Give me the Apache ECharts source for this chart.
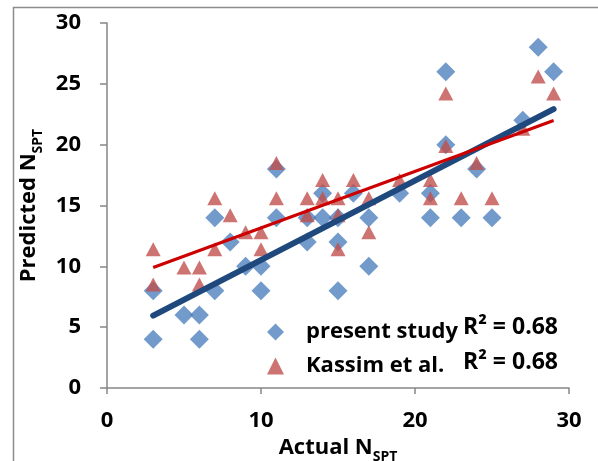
<!DOCTYPE html>
<html>
<head>
<meta charset="utf-8">
<script src="https://cdn.jsdelivr.net/npm/echarts@6/dist/echarts.min.js"></script>
<style>
html, body { margin: 0; padding: 0; background: #fff; }
#chart { width: 598px; height: 461px; }
</style>
</head>
<body>
<div id="chart"></div>
<script>
// values
var actualN = [3, 3, 5, 6, 6, 7, 7, 8, 9, 10, 10, 11, 11, 13, 13, 14, 14, 15, 15, 15, 16, 17, 17, 19, 21, 21, 22, 22, 23, 24, 25, 27, 28, 29];
var presentStudy = [8, 4, 6, 6, 4, 8, 14, 12, 10, 10, 8, 18, 14, 14, 12, 16, 14, 14, 12, 8, 16, 14, 10, 16, 16, 14, 26, 20, 14, 18, 14, 22, 28, 26];
var kassim = [11.4, 8.5, 9.9, 9.9, 8.5, 11.4, 15.6, 14.2, 12.8, 12.8, 11.4, 18.5, 15.6, 15.6, 14.2, 17.1, 15.6, 15.6, 14.2, 11.4, 17.1, 15.6, 12.8, 17.1, 17.1, 15.6, 24.2, 19.9, 15.6, 18.5, 15.6, 21.3, 25.6, 24.2];
var seriesNames = ['present study', 'Kassim et al.'];
var r2Labels = ['R\u00b2 = 0.68', 'R\u00b2 = 0.68'];

var FONT = 'Open Sans';

function pairs(xs, ys) {
    return xs.map(function (x, i) { return [x, ys[i]]; });
}

// least squares line from the points, drawn from min x to max x
function trend(xs, ys) {
    var n = xs.length, sx = 0, sy = 0, sxx = 0, sxy = 0;
    for (var i = 0; i < n; i++) {
        sx += xs[i]; sy += ys[i];
        sxx += xs[i] * xs[i]; sxy += xs[i] * ys[i];
    }
    var b = (n * sxy - sx * sy) / (n * sxx - sx * sx);
    var a = (sy - b * sx) / n;
    var x0 = Math.min.apply(null, xs), x1 = Math.max.apply(null, xs);
    return [[x0, a + b * x0], [x1, a + b * x1]];
}

var myChart = echarts.init(document.getElementById('chart'));
var axisGray = '#868686';
var subRich = {
    a: { fontSize: 22, fontWeight: 'bold', fontFamily: FONT, color: '#000', verticalAlign: 'bottom' },
    b: { fontSize: 14, fontWeight: 'bold', fontFamily: FONT, color: '#000', verticalAlign: 'bottom', padding: [0, 0, -5, 0] }
};
var option = {
    animation: false,
    textStyle: { fontFamily: FONT },
    grid: { left: 107, right: 29, top: 23, bottom: 73, outerBoundsMode: 'none' },
    xAxis: {
        type: 'value',
        min: 0, max: 30, interval: 10,
        splitLine: { show: false },
        axisLine: { lineStyle: { color: axisGray, width: 1.5 } },
        axisTick: { show: true, length: 6, lineStyle: { color: axisGray, width: 1.5 } },
        axisLabel: { color: '#000', fontSize: 22, fontWeight: 'bold', fontFamily: FONT, margin: 22 },
        name: '{a|Actual N}{b|SPT}',
        nameLocation: 'middle',
        nameGap: 41,
        nameTextStyle: { rich: subRich }
    },
    yAxis: {
        type: 'value',
        min: 0, max: 30, interval: 5,
        splitLine: { show: false },
        axisLine: { show: true, lineStyle: { color: axisGray, width: 1.5 } },
        axisTick: { show: true, length: 7, lineStyle: { color: axisGray, width: 1.5 } },
        axisLabel: { color: '#000', fontSize: 22, fontWeight: 'bold', fontFamily: FONT, margin: 26 },
        name: '{a|Predicted N}{b|SPT}',
        nameLocation: 'middle',
        nameRotate: 90,
        nameGap: 60,
        nameTextStyle: { rich: subRich }
    },
    legend: {
        data: [
            { name: seriesNames[0], icon: 'diamond' },
            { name: seriesNames[1], icon: 'triangle' }
        ],
        orient: 'vertical',
        left: 262,
        top: 314,
        itemWidth: 17,
        itemHeight: 17,
        itemGap: 8,
        textStyle: { fontSize: 22, fontWeight: 'bold', fontFamily: FONT, color: '#000', lineHeight: 26, padding: [0, 0, 0, 17] }
    },
    graphic: [
        {
            type: 'rect', silent: true, z: -10,
            shape: { x: 13.5, y: 7.5, width: 620, height: 480 },
            style: { fill: 'none', stroke: '#8c8c8c', lineWidth: 1.5 }
        },
        {
            type: 'text', left: 463, top: 316,
            style: { text: r2Labels[0], font: 'bold 23px "' + FONT + '"', fill: '#000' }
        },
        {
            type: 'text', left: 463, top: 351,
            style: { text: r2Labels[1], font: 'bold 23px "' + FONT + '"', fill: '#000' }
        }
    ],
    series: [
        {
            name: seriesNames[0],
            type: 'scatter',
            symbol: 'diamond',
            symbolSize: 19,
            itemStyle: { color: '#4F81BD' },
            data: pairs(actualN, presentStudy),
            z: 2
        },
        {
            name: seriesNames[1],
            type: 'scatter',
            symbol: 'triangle',
            symbolSize: [15, 14],
            itemStyle: { color: '#C0504D' },
            data: pairs(actualN, kassim),
            z: 3
        },
        {
            name: 'trend1',
            type: 'line',
            showSymbol: false,
            silent: true,
            lineStyle: { color: '#1F497D', width: 6, cap: 'round' },
            data: trend(actualN, presentStudy),
            z: 4
        },
        {
            name: 'trend2',
            type: 'line',
            showSymbol: false,
            silent: true,
            lineStyle: { color: '#CC0000', width: 3 },
            data: trend(actualN, kassim),
            z: 5
        }
    ]
};

option && myChart.setOption(option);
</script>
</body>
</html>
